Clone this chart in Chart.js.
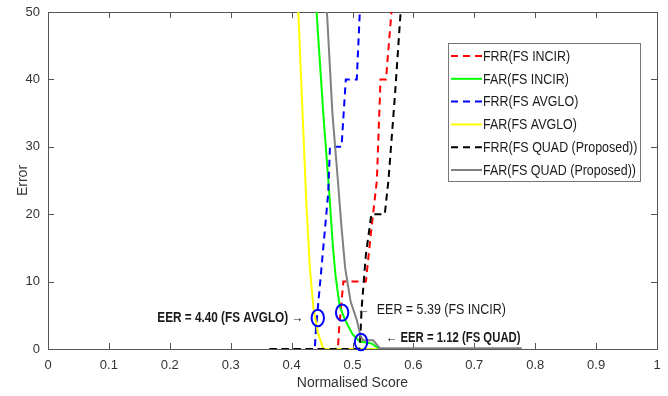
<!DOCTYPE html>
<html>
<head>
<meta charset="utf-8">
<script src="https://cdn.jsdelivr.net/npm/chart.js@4.4.0/dist/chart.umd.min.js"></script>
<style>
  html, body { margin: 0; padding: 0; background: #fff; }
  #wrap { width: 668px; height: 396px; }
</style>
</head>
<body>
<div id="wrap"><canvas id="chart-eer" width="668" height="396"></canvas></div>
<script>
// tick labels
const xTicks = [0, 0.1, 0.2, 0.3, 0.4, 0.5, 0.6, 0.7, 0.8, 0.9, 1];
const yTicks = [0, 10, 20, 30, 40, 50];

// FRR / FAR curves (normalised score -> error)
const frrIncirX = [0.364, 0.476, 0.478, 0.482, 0.485, 0.522, 0.530, 0.540, 0.546, 0.555, 0.564];
const frrIncirY = [0, 0, 3, 7, 10, 10, 17, 25, 40, 40, 50];
const farIncirX = [0.441, 0.452, 0.462, 0.468, 0.472, 0.479, 0.488, 0.500, 0.512, 0.532, 0.544];
const farIncirY = [50, 35, 23, 15, 11, 6.3, 4.3, 2.2, 1.1, 0.8, 0];
const frrAvgloX = [0.364, 0.438, 0.440, 0.444, 0.449, 0.455, 0.460, 0.463, 0.482, 0.489, 0.507, 0.512];
const frrAvgloY = [0, 0, 3, 7, 12, 18, 23, 30, 30, 40, 40, 50];
const farAvgloX = [0.411, 0.418, 0.424, 0.430, 0.436, 0.443, 0.449, 0.452, 0.540];
const farAvgloY = [50, 35, 22, 12, 6, 2.5, 0.8, 0, 0];
const frrQuadX = [0.364, 0.511, 0.512, 0.515, 0.522, 0.531, 0.553, 0.559, 0.570, 0.579];
const frrQuadY = [0, 0, 0.3, 6, 14, 20, 20, 25, 38, 50];
const farQuadX = [0.458, 0.467, 0.476, 0.482, 0.488, 0.497, 0.507, 0.513, 0.517, 0.534, 0.545, 0.778];
const farQuadY = [50, 35, 25, 18, 12, 7, 4.3, 2, 1.3, 1.3, 0.1, 0.1];

// EER markers
const eerX = [0.443, 0.483, 0.514];
const eerY = [4.6, 5.4, 1.04];

const FONT = '"Liberation Sans", Arial, sans-serif';
const zip = (xs, ys) => xs.map((x, i) => ({ x: x, y: ys[i] }));

function curve(label, xs, ys, color, dashed, order) {
    return {
        label: label,
        data: zip(xs, ys),
        borderColor: color,
        backgroundColor: color,
        borderWidth: 2,
        borderDash: dashed ? [7, 5] : [],
        pointRadius: 0,
        showLine: true,
        fill: false,
        tension: 0,
        order: order
    };
}

// condensed text (the figure uses a narrow face)
function narrowText(ctx, text, x, y, align, font, sx) {
    ctx.save();
    ctx.font = font;
    ctx.textBaseline = "middle";
    const w = ctx.measureText(text).width * sx;
    const left = align === "right" ? x - w : x;
    ctx.translate(left, y);
    ctx.scale(sx, 1);
    ctx.textAlign = "left";
    ctx.fillText(text, 0, 0);
    ctx.restore();
}

// box + inward ticks, MATLAB style
const axesBox = {
    id: "axesBox",
    beforeDatasetsDraw(chart) {
        const { ctx, chartArea: a, scales } = chart;
        ctx.save();
        ctx.strokeStyle = "#555";
        ctx.lineWidth = 1;
        ctx.strokeRect(a.left + 0.5, a.top + 0.5, a.right - a.left, a.bottom - a.top);
        ctx.beginPath();
        xTicks.forEach(v => {
            const px = Math.round(scales.x.getPixelForValue(v)) + 0.5;
            ctx.moveTo(px, a.bottom); ctx.lineTo(px, a.bottom - 6);
            ctx.moveTo(px, a.top); ctx.lineTo(px, a.top + 6);
        });
        yTicks.forEach(v => {
            const py = Math.round(scales.y.getPixelForValue(v)) + 0.5;
            ctx.moveTo(a.left, py); ctx.lineTo(a.left + 6, py);
            ctx.moveTo(a.right, py); ctx.lineTo(a.right - 6, py);
        });
        ctx.stroke();
        ctx.restore();
    }
};

// EER circles, annotations and the legend box
const overlay = {
    id: "overlay",
    afterDatasetsDraw(chart) {
        const { ctx, scales } = chart;
        ctx.save();
        ctx.strokeStyle = "#0000ff";
        ctx.lineWidth = 2;
        eerX.forEach((x, i) => {
            ctx.beginPath();
            ctx.ellipse(scales.x.getPixelForValue(x), scales.y.getPixelForValue(eerY[i]), 6.2, 8.2, 0, 0, Math.PI * 2);
            ctx.stroke();
        });

        ctx.fillStyle = "#1a1a1a";
        narrowText(ctx, "EER = 4.40 (FS AVGLO) \u2192", scales.x.getPixelForValue(0.419), scales.y.getPixelForValue(4.6),
            "right", "bold 14px " + FONT, 0.84);
        narrowText(ctx, "\u2190  EER = 5.39 (FS INCIR)", scales.x.getPixelForValue(0.508), scales.y.getPixelForValue(5.8),
            "left", "14px " + FONT, 0.89);
        narrowText(ctx, "\u2190 EER = 1.12 (FS QUAD)", scales.x.getPixelForValue(0.555), scales.y.getPixelForValue(1.6),
            "left", "bold 14px " + FONT, 0.81);

        // legend
        const lx = 448, ly = 43, lw = 192, lh = 138;
        ctx.fillStyle = "#fff";
        ctx.fillRect(lx, ly, lw, lh);
        ctx.strokeStyle = "#777";
        ctx.lineWidth = 1;
        ctx.setLineDash([]);
        ctx.strokeRect(lx + 0.5, ly + 0.5, lw, lh);
        chart.data.datasets.slice(0, 6).forEach((ds, i) => {
            const y = ly + 13 + i * 22.8;
            ctx.strokeStyle = ds.borderColor;
            ctx.lineWidth = 2;
            ctx.setLineDash(ds.borderDash);
            ctx.beginPath();
            ctx.moveTo(lx + 3, y); ctx.lineTo(lx + 34, y);
            ctx.stroke();
            ctx.setLineDash([]);
            ctx.fillStyle = "#1a1a1a";
            narrowText(ctx, ds.label, lx + 35, y + 1, "left", "14px " + FONT, 0.89);
        });
        ctx.restore();
    }
};

new Chart(document.getElementById("chart-eer"), {
    type: "scatter",
    data: {
        datasets: [
            curve("FRR(FS INCIR)", frrIncirX, frrIncirY, "#ff0000", true, 6),
            curve("FAR(FS INCIR)", farIncirX, farIncirY, "#00ff00", false, 5),
            curve("FRR(FS AVGLO)", frrAvgloX, frrAvgloY, "#0000ff", true, 4),
            curve("FAR(FS AVGLO)", farAvgloX, farAvgloY, "#ffff00", false, 3),
            curve("FRR(FS QUAD (Proposed))", frrQuadX, frrQuadY, "#000000", true, 2),
            curve("FAR(FS QUAD (Proposed))", farQuadX, farQuadY, "#808080", false, 1)
        ]
    },
    options: {
        responsive: false,
        animation: false,
        layout: { padding: { top: 12, right: 11, left: 0, bottom: 0 } },
        plugins: { legend: { display: false }, tooltip: { enabled: false } },
        scales: {
            x: {
                type: "linear",
                min: 0, max: 1,
                afterBuildTicks: s => { s.ticks = xTicks.map(v => ({ value: v })); },
                afterFit: s => { s.height = 47; s.paddingLeft = 0; s.paddingRight = 0; },
                grid: { display: false, drawTicks: false },
                border: { display: false },
                ticks: { color: "#333", padding: 9, font: { family: FONT, size: 13 }, maxRotation: 0, callback: v => String(v) },
                title: { display: true, text: "Normalised Score", color: "#333", font: { family: FONT, size: 14 }, padding: { top: 0, bottom: 4 } }
            },
            y: {
                type: "linear",
                min: 0, max: 50,
                afterBuildTicks: s => { s.ticks = yTicks.map(v => ({ value: v })); },
                afterFit: s => { s.width = 48; s.paddingTop = 0; s.paddingBottom = 0; },
                grid: { display: false, drawTicks: false },
                border: { display: false },
                ticks: { color: "#333", padding: 8, font: { family: FONT, size: 13 } },
                title: { display: true, text: "Error", color: "#333", font: { family: FONT, size: 14 }, padding: { top: 15, bottom: 0 } }
            }
        }
    },
    plugins: [axesBox, overlay]
});
</script>
</body>
</html>
